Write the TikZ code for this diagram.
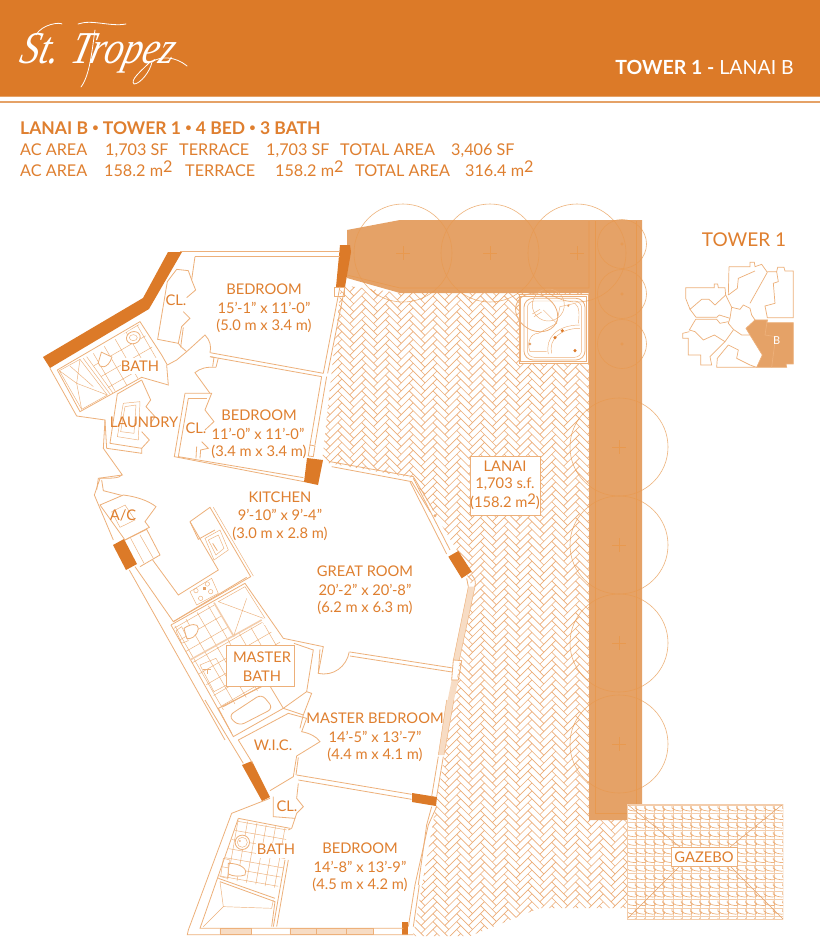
\documentclass[tikz,border=0pt]{standalone}
\usepackage{fontspec}
\setmainfont{Lato}
\newfontfamily\logofont{Liberation Serif}
\definecolor{org}{HTML}{DC7A28}
\definecolor{txt}{HTML}{DF7F2F}
\definecolor{ln}{HTML}{EDB07A}
\definecolor{hatch}{HTML}{ECAD78}
\definecolor{pale}{HTML}{F3CDAC}
\definecolor{band}{HTML}{E5A267}
\definecolor{bandln}{HTML}{E8994F}
\definecolor{strip}{HTML}{F7DCC4}
\tikzset{
 zA/.style={shift={(30,210)},x=0.3333pt,y=-0.3333pt},
 zB/.style={shift={(90,470)},x=0.3333pt,y=-0.3333pt},
 zC/.style={shift={(170,700)},x=0.3333pt,y=-0.3333pt},
 zD/.style={shift={(330,210)},x=0.3333pt,y=-0.3333pt},
 zE/.style={shift={(660,220)},x=0.3333pt,y=-0.3333pt},
 zF/.style={shift={(400,450)},x=0.3333pt,y=-0.3333pt},
 wall/.style={draw=ln,line width=.8pt,line join=miter},
 thin2/.style={draw=ln,line width=.45pt},
 dark/.style={fill=org,draw=none},
 lab/.style={text=txt,font=\fontsize{14.7}{17}\selectfont,inner sep=0pt,anchor=center},
 head/.style={text=txt,font=\fontsize{16.2}{18}\selectfont,inner sep=0pt,anchor=base west},
 tree/.style={draw=bandln,line width=.6pt,opacity=.75},
 tick/.style={draw=bandln,line width=.55pt},
 swash/.style={draw=white,line width=.8pt,line cap=round},
 keyln/.style={draw=ln,line width=.7pt},
}
\newcommand{\msq}{m\raisebox{.22em}{2}}
\newcommand{\smbul}{\raisebox{.12em}{\fontsize{11}{12}\selectfont •}}
\begin{document}
\begin{tikzpicture}[x=1pt,y=-1pt]
\useasboundingbox (0,0) rectangle (820,937);
\fill[white] (0,0) rectangle (820,937);
% header
\fill[org] (0,0) rectangle (820,96);
\fill[band] (0,96) rectangle (820,97);
\fill[band] (0,101) rectangle (820,103);
% logo
\node[text=white,inner sep=0pt,anchor=base west,font=\logofont\itshape\fontsize{38}{40}\selectfont,xslant=.25,yscale=1.2] (logo) at (18,63) {St. Tropez};
\draw[swash] (36,35) .. controls (42,24) and (60,22) .. (62,24);
\draw[swash] (78,24) .. controls (92,19) and (110,27) .. (126,24);
\draw[swash] (95,30) .. controls (92,50) and (90,75) .. (81,87);
\draw[swash] (150,62) .. controls (140,72) and (130,80) .. (134,84) .. controls (140,84) and (150,72) .. (152,62) .. controls (160,56) and (175,56) .. (187,66);
\node[text=white,inner sep=0pt,anchor=base east,font=\fontsize{19.5}{22}\selectfont] (towerhead) at (794,74) {\textbf{TOWER 1 -} LANAI B};
% heading text
\node[head,font=\bfseries\fontsize{17.5}{20}\selectfont] (h1) at (20,134) {LANAI B \smbul{} TOWER 1 \smbul{} 4 BED \smbul{} 3 BATH};
\node[head] (a1) at (20,155) {AC AREA};
\node[head] (a2) at (105,155) {1,703 SF};
\node[head] (a3) at (179,155) {TERRACE};
\node[head] (a4) at (266,155) {1,703 SF};
\node[head] (a5) at (340,155) {TOTAL AREA};
\node[head] (a6) at (451,155) {3,406 SF};
\node[head] (b1) at (20,176) {AC AREA};
\node[head] (b2) at (104,176) {158.2 \msq};
\node[head] (b3) at (185,176) {TERRACE};
\node[head] (b4) at (275,176) {158.2 \msq};
\node[head] (b5) at (355,176) {TOTAL AREA};
\node[head] (b6) at (465,176) {316.4 \msq};
% lanai herringbone
\begin{scope}
\clip (341,285)--(400,293)--(589,293)--(589,820)--(627,820)--(627,908)--(540,908)--(470,936)--(413,936)--(437,800)--(472,587)--(458,552)--(413,478)--(322,462)--cycle;
\begin{scope}[shift={(330,280)},x={(3.96pt,3.96pt)},y={(-3.96pt,3.96pt)}]
\draw[draw=hatch,line width=.65pt,line join=miter]
 \foreach \b in {-1,...,14}{ \foreach \a in {-86,...,3}{
  (\a+3*\b,\a-3*\b) -- ++(3,0) -- ++(0,1) -- ++(-3,0) -- cycle
  (\a+3*\b+3,\a-3*\b-2) -- ++(1,0) -- ++(0,3) -- ++(-1,0) -- cycle
 }};
\end{scope}
\end{scope}
% planter band
\fill[band] (347,230)--(400,220)--(642,220)--(642,820)--(589,820)--(589,293)--(400,293)--(347,278)--cycle;
\draw[tick] (347,275)--(400,288)--(589,288)--(589,221);
\draw[tick] (595.5,221)--(595.5,813)--(636,813)--(636,221);
% jacuzzi
\begin{scope}[zD]
\fill[white] (567,252) rectangle (775,460);
\draw[thin2] (567,252) rectangle (775,460);
\draw[thin2] (572,258) rectangle (770,455);
\draw[wall,fill=white,rounded corners=9pt] (582,265) rectangle (765,450);
\draw[thin2,rounded corners=7pt] (592,273) rectangle (755,442);
\draw[thin2] (655,432) .. controls (645,385) and (680,345) .. (750,345);
\draw[thin2] (665,430) .. controls (655,390) and (690,355) .. (750,355);
\draw[thin2] (680,340) -- (690,290) -- (735,280) .. controls (750,290) and (748,320) .. (745,340);
\draw[thin2] (640,300) -- (680,340) -- (625,370);
\draw[thin2] (625,370) .. controls (600,370) and (590,400) .. (600,425) -- (650,425);
\draw[wall,rotate around={-30:(620,308)}] (620,308) ellipse (22pt and 18pt);
\draw[thin2] (607,312)--(630,298) (612,320)--(635,306);
\draw[thin2] (655,285) circle (16pt);
\fill[org] (697,362) circle (1.7pt) (675,383) circle (1.7pt) (735,422) circle (1.7pt);
\fill[band] (600,402) circle (1.5pt) (715,287) circle (1.2pt);
\end{scope}
% trees
\foreach \cx/\cy in {403/253,490/253,577/253,619/447,619/545,619/643,619/744}{
 \draw[tree] (\cx,\cy) circle (49);
 \draw[tick] (\cx-7,\cy)--(\cx+7,\cy) (\cx,\cy-7)--(\cx,\cy+7);
}
\foreach \cy in {244,294,344}{
 \draw[tree] (622,\cy) circle (24.5);
 \draw[tick] (622,\cy) circle (1.2);
}
% gazebo
\begin{scope}
\clip (627,804) rectangle (783,919);
\fill[white] (627,804) rectangle (783,919);
\foreach \i in {0,...,17}{ \draw[draw=pale,line width=.9pt] (627+9.2*\i,804)--(627+9.2*\i,919); }
\foreach \j in {0,...,13}{
 \draw[draw=pale,line width=.8pt] (627,805+8.6*\j)--(783,805+8.6*\j);
 \draw[draw=ln,line width=.65pt]
 \foreach \i in {0,...,17}{ (627+9.2*\i,808+8.6*\j) .. controls +(1.5,4) and +(6.5,4) .. +(8.2,0) -- +(8.2,-2) };
}
\draw[draw=org!70,line width=.5pt] (627,804)--(680,847) (783,804)--(730,847) (627,919)--(680,866) (783,919)--(730,866);
\draw[draw=pale,line width=.9pt] (627,804) rectangle (783,919);
\end{scope}
% dark walls
\fill[dark] (168,252)--(182,252)--(149,309)--(50,368)--(43,357)--(143,298)--cycle;
\fill[dark] (340,245)--(350,245)--(351,252)--(345,287)--(336,287)--cycle;
\fill[dark] (307,458)--(323,460)--(318,485)--(304,482)--cycle;
\fill[dark] (113,545)--(124,539)--(137,564)--(126,570)--cycle;
\fill[dark] (242,765)--(252,761)--(270,797)--(262,801)--cycle;
\fill[dark] (412,793)--(437,797)--(436,806)--(412,802)--cycle;
\fill[dark] (402,922) rectangle (408,935);
\begin{scope}[zF]
\fill[dark] (145,320)--(175,303)--(215,365)--(185,385)--cycle;
\fill[strip] (205,410)--(225,410)--(178,630)--(160,630)--cycle;
\fill[strip] (155,690)--(175,690)--(162,750)--(143,750)--cycle;
\draw[thin2] (205,410)--(160,630) (225,410)--(178,630);
\draw[wall] (215,375) .. controls (225,385) and (228,395) .. (225,410) (200,385)--(205,410);
\draw[wall] (160,630)--(185,632)--(175,690)--(155,690)--cycle;
\end{scope}
% north bedroom part
\begin{scope}[zA]
\draw[wall] (450,125)--(930,125) (495,140)--(930,140);
\draw[wall] (495,140)--(485,210)--(497,240)--(470,263);
\draw[wall] (460,305)--(480,325)--(455,350)--(445,400);
\draw[wall] (440,178)--(475,182)--(485,210);
\draw[wall] (440,178)--(412,215)--(383,388)--(445,400);
\draw[wall] (460,352)--(452,412);
% bath
\draw[wall] (82,480)--(330,335)--(395,435)--(412,465);
\draw[wall] (60,475)--(140,618)--(225,630)--(220,715)--(277,795)--(205,805)--(200,840);
\draw[wall] (82,480)--(150,605)--(335,502)--(415,525)--(410,465);
\draw[thin2] (88,482)--(150,448)--(232,555)--(155,598)--cycle;
\draw[thin2] (160,445)--(240,552) (170,440)--(248,548);
\draw[thin2] (120,468)--(190,530) (150,448)--(140,520)--(155,598) (88,482)--(140,520) (232,555)--(140,520);
\begin{scope}
\clip (175,440)--(330,340)--(390,435)--(335,500)--(245,550)--cycle;
\begin{scope}[shift={(100,430)},x=1pt,y=-1pt,rotate=30]
\draw[thin2] (-50,-60) grid[step=13pt] (80,60);
\end{scope}
\end{scope}
\fill[white] (273,445) rectangle (392,492);
\draw[wall,rotate around={-25:(222,450)},fill=white] (205,432) -- (240,432) .. controls (245,470) and (220,480) .. (210,465) -- cycle;
\draw[wall,fill=white,rotate around={20:(310,383)}] (310,383) ellipse (7pt and 6pt);
\draw[thin2] (310,383) ellipse (4pt and 3pt);
% doors
\draw[wall] (412,465)--(440,450)--(470,425)--(525,375) .. controls (540,390) and (545,410) .. (540,428);
\draw[wall] (445,400)--(455,412)--(470,425);
\draw[wall] (540,428)--(880,490) (540,440)--(875,500);
\draw[wall] (540,440)--(552,442)--(548,470) (565,444)--(558,472);
\draw[wall] (558,472) .. controls (530,470) and (510,475) .. (495,488)--(540,550);
\draw[wall] (930,230)--(880,490) (945,230)--(893,490);
\draw[wall] (875,500)--(840,705) (890,500)--(855,705);
\draw[wall] (912,233) rectangle (942,258);
\draw[wall] (840,705)--(855,708)--(850,740)--(835,738)--cycle;
% bedroom 2
\draw[wall] (465,550)--(433,740)--(822,815);
\draw[wall] (475,565)--(445,740)--(820,803);
\draw[wall] (465,550)--(545,550)--(525,600)--(552,635)--(525,660);
\draw[wall] (475,565)--(530,565);
\draw[wall] (515,695)--(535,715)--(512,720)--(510,745) (500,710)--(498,745);
% laundry
\draw[wall] (335,510)--(262,552)--(240,700)--(335,715)--(335,730)--(230,715);
\draw[wall] (335,510)--(362,570)--(348,590)--(375,620)--(362,640);
\draw[wall] (335,665)--(358,690)--(335,715);
\draw[thin2] (280,580)--(330,575)--(325,690)--(262,680)--cycle;
\draw[thin2] (285,590)--(318,585)--(312,670)--(272,665)--cycle;
% lower-left wall
\draw[wall] (225,630)--(230,715);
\end{scope}
% great room north windows
\begin{scope}[zD]
\draw[wall] (0,755)--(250,800)--(310,900) (5,770)--(245,815)--(300,905);
\end{scope}
\begin{scope}[zF]
\draw[wall] (40,85)--(150,300) (30,95)--(140,312);
\fill[ln] (105,197) circle (1.6pt);
\end{scope}
% kitchen and master bath
\begin{scope}[zB]
\draw[wall] (95,15) .. controls (90,25) and (60,25) .. (30,25)--(13,75)--(70,210);
\draw[wall] (35,30)--(40,62)--(130,85);
\draw[wall,fill=white] (30,105)--(100,75) .. controls (140,80) and (175,92) .. (198,110)--(165,155)--(178,172)--(105,210)--cycle;
\draw[thin2] (65,125)--(105,105)--(135,150)--(90,172)--cycle;
\draw[wall] (105,210)--(170,178)--(210,255)--(150,290);
\draw[thin2] (122,205)--(162,280) (150,195)--(190,265);
\draw[wall] (300,155)--(360,112)--(482,320)--(250,455)--(135,290);
\draw[wall] (300,155)--(385,300)--(265,375)--(188,270);
\draw[thin2] (370,112)--(490,318);
\draw[wall] (300,155)--(325,208)--(375,180);
\draw[thin2] (345,205)--(390,180)--(415,240)--(372,270)--cycle;
\draw[thin2] (355,210)--(385,195)--(402,235)--(378,255)--cycle;
\draw[wall] (368,220)--(382,242);
\draw[thin2] (300,365)--(365,325)--(385,370)--(320,405)--cycle;
\foreach \p/\q in {318/362,352/342,332/385,362/365}{\draw[thin2] (\p,\q) circle (2.2pt);}
\fill[band] (338,352) rectangle (348,360);
% master bath
\draw[wall] (243,465)--(465,340)--(580,505)--(700,530)--(685,610);
\draw[wall] (250,455)--(470,322);
\draw[wall] (118,300)--(405,810);
\draw[wall] (243,465)--(425,790);
\begin{scope}
\clip (250,470)--(368,400)--(430,500)--(515,455)--(575,520)--(665,540)--(645,665)--(560,712)--(545,650)--(400,720)--(300,570)--cycle;
\begin{scope}[shift={(330,520)},x=1pt,y=-1pt,rotate=30]
\draw[thin2] (-60,-70) grid[step=13pt] (70,70);
\end{scope}
\end{scope}
\draw[draw=pale,line width=1.6pt] (300,570)--(515,450);
\draw[draw=pale,line width=1.6pt] (372,398)--(432,500);
\draw[thin2] (385,395)--(465,350)--(525,445) (385,395)--(520,445) (470,385)--(432,495);
\draw[wall,fill=white] (282,475) .. controls (300,462) and (325,458) .. (325,475) .. controls (322,500) and (300,510) .. (290,505)--cycle;
\draw[thin2] (258,482)--(275,470)--(295,512)--(275,520)--cycle;
\draw[thin2] (330,585)--(378,565)--(420,640)--(372,665)--cycle;
\draw[thin2] (340,598)--(362,598) (352,598)--(352,612);
\draw[wall] (385,715)--(535,640)--(580,715)--(430,800)--cycle;
\draw[wall] (400,710)--(530,640);
\draw[wall,rounded corners=6pt] (415,738)--(515,672)--(550,715)--(447,768)--cycle;
\draw[wall] (580,715)--(640,735)--(630,775);
\draw[wall] (650,665)--(665,670)--(640,735);
\draw[wall] (690,538)--(685,610)..controls (730,620) and (770,590) ..(778,545);
\draw[wall] (612,520)--(670,540)--(650,665)--(580,715);
\draw[wall,fill=white] (408,525) rectangle (612,650);
\end{scope}
\draw[wall] (350,652)--(453,668) (350,656)--(452,672);
% wic + south
\begin{scope}[zC]
\draw[wall] (105,0)--(220,190);
\draw[wall] (205,120)--(355,40)--(410,55)--(395,95) .. controls (420,100) and (440,110) .. (450,125)--(380,168)--(370,230)--(300,272);
\draw[wall] (385,172)--(378,225);
\draw[wall] (205,120)--(248,190);
\draw[wall] (380,225)--(725,283) (385,240)--(725,298);
\draw[wall] (300,295)--(185,340)--(55,690)--(52,704)--(730,704);
\draw[wall] (205,355)--(90,685)--(700,685);
\draw[wall] (205,355)--(360,385);
\draw[wall] (310,290)--(310,350)--(375,355)--(365,385);
\draw[wall] (385,250)--(380,295)--(400,320)--(380,340)--(375,355);
\draw[wall] (365,385)--(355,390);
\draw[wall] (355,480)--(320,680) (345,480)--(310,680);
\draw[wall] (150,545)--(315,605)--(305,680);
\draw[wall] (145,535)--(315,595);
\draw[thin2] (160,620)--(305,625) (160,620)--(100,680) (160,620)--(150,545) (305,625)--(310,600);
\begin{scope}
\clip (205,360)--(350,385)--(345,480)--(315,595)--(145,535)--cycle;
\begin{scope}[shift={(250,430)},x=1pt,y=-1pt,rotate=-10]
\draw[thin2] (-40,-40) grid[step=9.5pt] (40,40);
\end{scope}
\end{scope}
\fill[white] (258,428) rectangle (378,475);
\draw[wall,fill=white] (217,427) circle (7.2pt);
\draw[thin2] (217,427) circle (5pt);
\fill[ln] (210,423) circle (1pt);
\draw[wall,fill=white] (175,490) .. controls (215,490) and (235,510) .. (225,525) .. controls (210,530) and (190,530) .. (175,522) -- cycle;
\draw[thin2] (160,475)--(180,480)--(172,535)--(152,530)--cycle;
\fill[strip] (150,685) rectangle (245,704) (360,685) rectangle (610,704);
\draw[thin2] (150,685) rectangle (245,704) (360,685) rectangle (610,704) (440,685)--(440,704) (530,685)--(530,704);
\draw[wall] (805,170)--(785,290) (820,170)--(800,290);
\fill[strip] (830,0)--(852,0)--(822,165)--(805,165)--cycle;
\draw[thin2] (830,0)--(805,165) (852,0)--(822,165);
\draw[wall] (800,320)--(775,375)--(735,555)--(715,680);
\draw[wall] (785,320)--(770,375)--(745,555);
\draw[wall] (748,555)--(730,680);
\end{scope}
% labels
\node[lab] (t1) at (264,289) {BEDROOM};
\node[lab] (t2) at (264,308) {15’-1” x 11’-0”};
\node[lab] (t3) at (264,326) {(5.0 m x 3.4 m)};
\node[lab] (t4) at (176,300) {CL.};
\node[lab] (t5) at (140,366) {BATH};
\node[lab] (t6) at (144,422) {LAUNDRY};
\node[lab] (t7) at (259,415) {BEDROOM};
\node[lab] (t8) at (258,434) {11’-0” x 11’-0”};
\node[lab] (t9) at (259,452) {(3.4 m x 3.4 m)};
\node[lab] (t10) at (196,428) {CL.};
\node[lab] (t11) at (280,497) {KITCHEN};
\node[lab] (t12) at (280,515) {9’-10” x 9’-4”};
\node[lab] (t13) at (280,534) {(3.0 m x 2.8 m)};
\node[lab] (t14) at (123,515) {A/C};
\node[lab] (t15) at (365,571) {GREAT ROOM};
\node[lab] (t16) at (365,590) {20’-2” x 20’-8”};
\node[lab] (t17) at (365,608) {(6.2 m x 6.3 m)};
\node[lab] (t18) at (262,657) {MASTER};
\node[lab] (t19) at (262,676) {BATH};
\node[lab] (t20) at (375,718) {MASTER BEDROOM};
\node[lab] (t21) at (375,737) {14’-5” x 13’-7”};
\node[lab] (t22) at (375,755) {(4.4 m x 4.1 m)};
\node[lab] (t23) at (273,745) {W.I.C.};
\node[lab] (t24) at (287,806) {CL.};
\node[lab] (t25) at (276,849) {BATH};
\node[lab] (t26) at (360,848) {BEDROOM};
\node[lab] (t27) at (360,867) {14’-8” x 13’-9”};
\node[lab] (t28) at (360,885) {(4.5 m x 4.2 m)};
% lanai box
\draw[wall,fill=white] (470,456) rectangle (540,515);
\node[lab] (l1) at (505,466) {LANAI};
\node[lab] (l2) at (505,484) {1,703 s.f.};
\node[lab] (l3) at (505,502) {(158.2 \msq)};
% gazebo box
\draw[wall,fill=white] (671,847) rectangle (737,866);
\node[lab] (g1) at (704,857) {GAZEBO};
% key map
\node[text=txt,inner sep=0pt,font=\fontsize{19}{21}\selectfont] (tower) at (744,240) {TOWER 1};
\begin{scope}[zE]
\fill[band] (285,300)--(322,300)--(320,308)--(400,308)--(400,432)--(378,432)--(380,442)--(290,442)--(307,405)--(270,345)--(258,325)--cycle;
\draw[keyln] (285,300)--(322,300)--(320,308)--(400,308)--(400,432)--(378,432)--(380,442)--(290,442)--(307,405)--(270,345)--(258,325)--cycle;
\draw[keyln] (322,300)--(315,345)--(347,350)--(335,442);
\draw[keyln] (322,155)--(350,155)--(353,142)--(372,142)--(375,153)--(400,153)--(400,293)--(322,293)--(315,258)--(345,250)--(340,190)--(355,185)--(350,155);
\draw[keyln] (207,140)--(270,140)--(270,127)--(283,127)--(285,140)--(305,133)--(322,157)--(270,250);
\draw[keyln] (207,140)--(205,225) (285,153)--(235,175)--(232,205)--(205,225);
\draw[keyln] (77,203)--(163,203)--(163,192)--(173,192)--(175,203)--(195,203)--(197,225)--(165,255)--(147,238)--(125,238)--(90,268)--(77,235)--cycle;
\draw[keyln] (90,268)--(108,292)--(170,292)--(178,285)--(210,295);
\draw[keyln] (197,225)--(215,262)--(240,268)--(250,255)--(270,265)--(275,285)--(285,300);
\draw[keyln] (215,262)--(210,295)--(205,310)--(220,328)--(245,345)--(270,345);
\draw[keyln] (107,298)--(170,298)--(180,310)--(205,305) (107,298)--(88,330)--(105,335)--(130,360)--(163,345)--(195,365)--(220,330);
\draw[keyln] (88,335)--(68,340)--(68,355)--(85,355)--(85,405)--(122,405)--(122,435)--(155,435)--(150,410)--(195,365);
\draw[keyln] (205,375)--(172,415)--(170,442)--(290,442) (205,375)--(235,390)--(230,415)--(270,435)--(290,442);
\node[text=white,inner sep=0pt,font=\fontsize{11}{13}\selectfont] (keyb) at (350,361) {B};
\end{scope}
\end{tikzpicture}
\end{document}
